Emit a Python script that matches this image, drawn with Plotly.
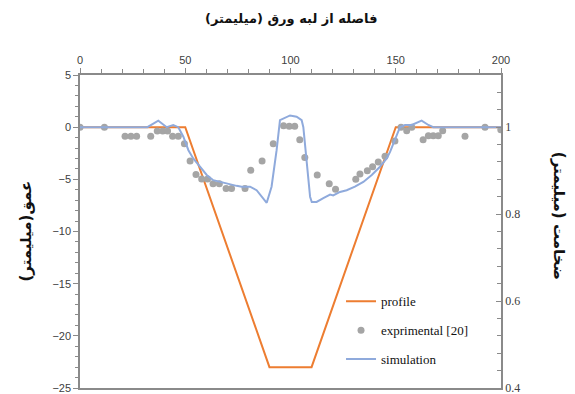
import plotly.graph_objects as go

# profile (depth, left axis)
profile_x = [0, 50, 90, 110, 150, 200]
profile_y = [0, 0, -23, -23, 0, 0]

# simulation (thickness, right axis)
sim_x = [0, 32, 37.2, 41.2, 44.3, 46.7, 49.1, 51.5, 53.8, 57, 60.2, 63.3, 66.5, 69.7,
         74.4, 76.8, 80.8, 83.9, 87.1, 88.7, 91, 93.4, 95, 99.8, 102.9, 105.3, 106.1,
         106.9, 107.7, 109.3, 110.1, 112.4, 115.6, 118.8, 120.3, 123.5, 126.7, 130.6,
         134.6, 138.6, 142.5, 145.7, 147.3, 149.6, 152, 154.4, 157.6, 162.3, 165.5,
         167.8, 200]
sim_t = [1, 1, 1.015, 1, 1.005, 1, 0.978, 0.947, 0.928, 0.909, 0.89, 0.878, 0.874, 0.87,
         0.865, 0.863, 0.863, 0.855, 0.836, 0.826, 0.863, 0.947, 1.016, 1.027, 1.024,
         1.016, 1.0, 0.962, 0.909, 0.84, 0.828, 0.828, 0.837, 0.845, 0.843, 0.851, 0.855,
         0.863, 0.874, 0.89, 0.909, 0.928, 0.943, 0.97, 1.0, 1.005, 1.005, 1.015, 1.005,
         1, 1]

# experimental (thickness, right axis)
exp_x = [0, 11.6, 21.4, 24.2, 26.9, 33.6, 36.7, 39.3, 41.6, 44, 46.7, 49.6, 52.3, 55.1,
         57.8, 60.6, 63.2, 66.2, 69.4, 72, 78.4, 81.1, 86.5, 91.8, 96.7, 99.4, 102,
         104.4, 106.8, 112.7, 118.4, 121.4, 131, 133, 136.5, 139, 141.7, 144.9, 149.6,
         152.5, 155.2, 157.6, 163, 165.5, 167.8, 170.2, 172.3, 182.9, 192.4, 199.9]
exp_t = [1, 1, 0.979, 0.979, 0.979, 0.979, 0.991, 0.991, 0.991, 0.979, 0.979, 0.962,
         0.922, 0.891, 0.881, 0.881, 0.87, 0.87, 0.859, 0.859, 0.859, 0.901, 0.922, 0.962,
         1.003, 1.002, 1.002, 0.971, 0.93, 0.89, 0.87, 0.857, 0.88, 0.892, 0.9, 0.909,
         0.92, 0.933, 0.968, 1.0, 0.992, 1.0, 0.971, 0.98, 0.98, 0.98, 0.992, 0.979, 1.0,
         0.994]

x_ticks = [0, 50, 100, 150, 200]
left_ticks = [5, 0, -5, -10, -15, -20, -25]
right_ticks = [0.4, 0.6, 0.8, 1]

AX = "#8a8a8a"
TXT = "#404040"

fig = go.Figure()
fig.add_trace(go.Scatter(x=profile_x, y=profile_y, mode="lines", name="profile",
                         line=dict(color="#ED7D31", width=2), legendgroup="a"))
fig.add_trace(go.Scatter(x=exp_x, y=exp_t, mode="markers", name="exprimental [20]",
                         marker=dict(color="#A5A5A5", size=7), yaxis="y2", legendgroup="b"))
fig.add_trace(go.Scatter(x=sim_x, y=sim_t, mode="lines", name="simulation",
                         line=dict(color="#8FAADC", width=2), yaxis="y2", legendgroup="c"))

fig.update_layout(
    width=567, height=386,
    margin=dict(l=72, r=74, t=67, b=6, autoexpand=False),
    paper_bgcolor="white", plot_bgcolor="white",
    showlegend=True,
    legend=dict(x=0.62, y=0.325, xanchor="left", yanchor="top",
                font=dict(family="Liberation Serif", size=13, color="#111"),
                tracegroupgap=9, bgcolor="rgba(0,0,0,0)"),
    xaxis=dict(side="top", range=[0, 200], tickvals=x_ticks, ticks="outside", ticklen=5,
               tickcolor=AX, showline=True, linecolor=AX, linewidth=1.5, mirror=True,
               showgrid=False, zeroline=False,
               tickfont=dict(family="Liberation Sans", size=11, color=TXT),
               minor=dict(dtick=10, ticks="outside", ticklen=4, tickcolor=AX)),
    yaxis=dict(range=[-25, 5], tickvals=left_ticks, ticks="outside", ticklen=5,
               tickcolor=AX, showline=True, linecolor=AX, linewidth=1.5,
               showgrid=False, zeroline=False, ticklabeloverflow="allow",
               tickfont=dict(family="Liberation Sans", size=11, color=TXT),
               minor=dict(dtick=1, ticks="outside", ticklen=3, tickcolor=AX)),
    yaxis2=dict(overlaying="y", side="right", range=[0.4, 1.12], tickvals=right_ticks,
                ticktext=["0.4", "0.6", "0.8", "1"], ticklabeloverflow="allow",
                ticks="inside", ticklen=5, tickcolor=AX, showline=True, linecolor=AX,
                linewidth=1.5, showgrid=False, zeroline=False,
                tickfont=dict(family="Liberation Serif", size=12, color=TXT),
                minor=dict(tick0=0.4, dtick=0.04, ticks="inside", ticklen=4, tickcolor=AX)),
    annotations=[
        dict(text="<b>فاصله از لبه ورق (میلیمتر)</b>", x=0.5, y=1, xref="paper", yref="paper",
             yshift=57, xanchor="center", yanchor="middle", showarrow=False,
             font=dict(family="DejaVu Sans", size=13, color="#111")),
        dict(text="<b>عمق(میلیمتر)</b>", x=0, xref="paper", xshift=-55, y=0.5, yref="paper",
             textangle=-90, xanchor="center", yanchor="middle", showarrow=False,
             font=dict(family="DejaVu Sans", size=15, color="#111")),
        dict(text="<b>ضخامت (میلیمتر)</b>", x=1, xref="paper", xshift=58, y=0.55, yref="paper",
             textangle=90, xanchor="center", yanchor="middle", showarrow=False,
             font=dict(family="DejaVu Sans", size=15, color="#111")),
    ],
)

fig.write_html("out.html")
